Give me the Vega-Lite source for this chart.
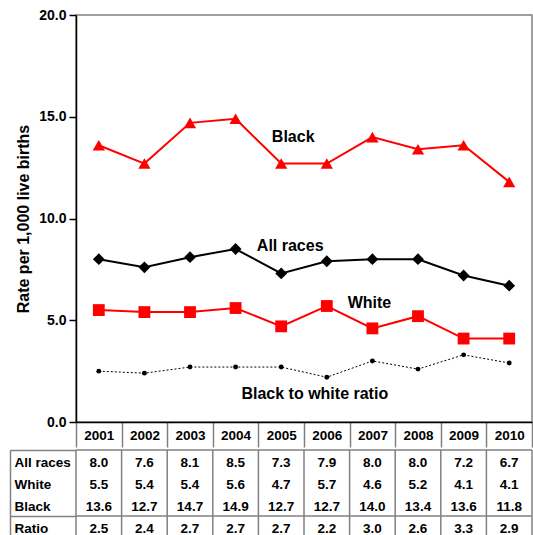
{
  "$schema": "https://vega.github.io/schema/vega-lite/v6.json",
  "padding": {"left": 9, "top": 7, "right": 0, "bottom": 0},
  "spacing": 0,
  "config": {"font": "Liberation Sans", "view": {"stroke": null}},
  "datasets": {
    "rates": [
      {"year": "2001", "series": "All races", "value": 8.0},
      {"year": "2002", "series": "All races", "value": 7.6},
      {"year": "2003", "series": "All races", "value": 8.1},
      {"year": "2004", "series": "All races", "value": 8.5},
      {"year": "2005", "series": "All races", "value": 7.3},
      {"year": "2006", "series": "All races", "value": 7.9},
      {"year": "2007", "series": "All races", "value": 8.0},
      {"year": "2008", "series": "All races", "value": 8.0},
      {"year": "2009", "series": "All races", "value": 7.2},
      {"year": "2010", "series": "All races", "value": 6.7},
      {"year": "2001", "series": "White", "value": 5.5},
      {"year": "2002", "series": "White", "value": 5.4},
      {"year": "2003", "series": "White", "value": 5.4},
      {"year": "2004", "series": "White", "value": 5.6},
      {"year": "2005", "series": "White", "value": 4.7},
      {"year": "2006", "series": "White", "value": 5.7},
      {"year": "2007", "series": "White", "value": 4.6},
      {"year": "2008", "series": "White", "value": 5.2},
      {"year": "2009", "series": "White", "value": 4.1},
      {"year": "2010", "series": "White", "value": 4.1},
      {"year": "2001", "series": "Black", "value": 13.6},
      {"year": "2002", "series": "Black", "value": 12.7},
      {"year": "2003", "series": "Black", "value": 14.7},
      {"year": "2004", "series": "Black", "value": 14.9},
      {"year": "2005", "series": "Black", "value": 12.7},
      {"year": "2006", "series": "Black", "value": 12.7},
      {"year": "2007", "series": "Black", "value": 14.0},
      {"year": "2008", "series": "Black", "value": 13.4},
      {"year": "2009", "series": "Black", "value": 13.6},
      {"year": "2010", "series": "Black", "value": 11.8},
      {"year": "2001", "series": "Ratio", "value": 2.5},
      {"year": "2002", "series": "Ratio", "value": 2.4},
      {"year": "2003", "series": "Ratio", "value": 2.7},
      {"year": "2004", "series": "Ratio", "value": 2.7},
      {"year": "2005", "series": "Ratio", "value": 2.7},
      {"year": "2006", "series": "Ratio", "value": 2.2},
      {"year": "2007", "series": "Ratio", "value": 3.0},
      {"year": "2008", "series": "Ratio", "value": 2.6},
      {"year": "2009", "series": "Ratio", "value": 3.3},
      {"year": "2010", "series": "Ratio", "value": 2.9}
    ],
    "notes": [
      {"label": "Black", "year": "2005", "value": 14.0},
      {"label": "All races", "year": "2005", "value": 8.65},
      {"label": "White", "year": "2007", "value": 5.85},
      {"label": "Black to white ratio", "year": "2006", "value": 1.38}
    ]
  },
  "vconcat": [
    {
      "width": 456,
      "height": 407,
      "view": {"stroke": "#808080", "strokeWidth": 1.5},
      "data": {"name": "rates"},
      "encoding": {
        "x": {
          "field": "year", "type": "nominal",
          "scale": {"type": "band", "paddingInner": 0, "paddingOuter": 0, "domain": ["2001","2002","2003","2004","2005","2006","2007","2008","2009","2010"]},
          "axis": {
            "title": null, "orient": "bottom", "labelAngle": 0,
            "labelFontSize": 13.5, "labelFontWeight": "bold", "labelColor": "#000",
            "labelBaseline": "middle", "labelPadding": -12,
            "tickBand": "extent", "tickSize": 25, "tickColor": "#808080", "tickWidth": 1.5,
            "domainColor": "#000", "domainWidth": 1.5, "grid": false
          }
        },
        "y": {
          "field": "value", "type": "quantitative",
          "scale": {"domain": [0, 20], "nice": false},
          "axis": {
            "title": "Rate per 1,000 live births", "titleFontSize": 16, "titleFontWeight": "bold",
            "titleColor": "#000", "titlePadding": 7,
            "values": [0, 5, 10, 15, 20], "format": ".1f",
            "labelFontSize": 14, "labelFontWeight": "bold", "labelColor": "#000", "labelPadding": 3,
            "tickSize": 7, "tickColor": "#000", "tickWidth": 1.5,
            "domainColor": "#000", "domainWidth": 1.5, "grid": false
          }
        }
      },
      "layer": [
        {"transform": [{"filter": "datum.series === 'Black'"}], "mark": {"type": "line", "color": "#FF0000", "strokeWidth": 2}},
        {"transform": [{"filter": "datum.series === 'All races'"}], "mark": {"type": "line", "color": "#000000", "strokeWidth": 2}},
        {"transform": [{"filter": "datum.series === 'White'"}], "mark": {"type": "line", "color": "#FF0000", "strokeWidth": 2}},
        {"transform": [{"filter": "datum.series === 'Ratio'"}], "mark": {"type": "line", "color": "#000000", "strokeWidth": 1, "strokeDash": [2, 2]}},
        {"transform": [{"filter": "datum.series === 'Black'"}], "mark": {"type": "point", "shape": "triangle-up", "filled": true, "opacity": 1, "color": "#FF0000", "size": 150}},
        {"transform": [{"filter": "datum.series === 'All races'"}], "mark": {"type": "point", "shape": "diamond", "filled": true, "opacity": 1, "color": "#000000", "size": 140}},
        {"transform": [{"filter": "datum.series === 'White'"}], "mark": {"type": "point", "shape": "square", "filled": true, "opacity": 1, "color": "#FF0000", "size": 140}},
        {"transform": [{"filter": "datum.series === 'Ratio'"}], "mark": {"type": "point", "shape": "circle", "filled": true, "opacity": 1, "color": "#000000", "size": 24}},
        {"data": {"name": "notes"}, "transform": [{"filter": "datum.label === 'Black'"}], "mark": {"type": "text", "fontSize": 16, "fontWeight": "bold", "color": "#000", "dx": 12}, "encoding": {"text": {"field": "label"}}},
        {"data": {"name": "notes"}, "transform": [{"filter": "datum.label === 'All races'"}], "mark": {"type": "text", "fontSize": 16, "fontWeight": "bold", "color": "#000", "dx": 9}, "encoding": {"text": {"field": "label"}}},
        {"data": {"name": "notes"}, "transform": [{"filter": "datum.label === 'White'"}], "mark": {"type": "text", "fontSize": 16, "fontWeight": "bold", "color": "#000", "dx": -3}, "encoding": {"text": {"field": "label"}}},
        {"data": {"name": "notes"}, "transform": [{"filter": "datum.label === 'Black to white ratio'"}], "mark": {"type": "text", "fontSize": 16, "fontWeight": "bold", "color": "#000", "dx": -12}, "encoding": {"text": {"field": "label"}}}
      ]
    },
    {
      "width": 456,
      "height": 88,
      "data": {"name": "rates"},
      "resolve": {"axis": {"y": "independent"}},
      "layer": [
        {
          "transform": [{"filter": "datum.series === 'All races'"}],
          "mark": {"type": "rule", "color": "#808080", "strokeWidth": 1.5},
          "encoding": {
            "x": {"field": "year", "type": "nominal", "bandPosition": 0,
              "scale": {"type": "band", "paddingInner": 0, "paddingOuter": 0, "domain": ["2001","2002","2003","2004","2005","2006","2007","2008","2009","2010"]},
              "axis": null}
          }
        },
        {
          "transform": [{"filter": "datum.series === 'All races' && datum.year === '2010'"}],
          "mark": {"type": "rule", "color": "#808080", "strokeWidth": 1.5},
          "encoding": {
            "x": {"field": "year", "type": "nominal", "bandPosition": 1, "axis": null}
          }
        },
        {
          "transform": [{"filter": "(datum.series === 'All races' || datum.series === 'Ratio') && datum.year === '2001'"}],
          "mark": {"type": "rule", "color": "#808080", "strokeWidth": 1.5},
          "encoding": {
            "y": {"field": "series", "type": "nominal", "bandPosition": 0,
              "scale": {"type": "band", "paddingInner": 0, "paddingOuter": 0, "domain": ["All races", "White", "Black", "Ratio"]},
              "axis": {
                "orient": "left", "offset": 66, "title": null, "labels": false, "domain": false,
                "values": ["All races", "Ratio"], "tickOffset": -11, "tickSize": -66,
                "tickColor": "#808080", "tickWidth": 1.5, "grid": false
              }
            }
          }
        },
        {
          "mark": {"type": "text", "fontSize": 13.5, "fontWeight": "bold", "color": "#000", "dy": 1.5},
          "encoding": {
            "x": {"field": "year", "type": "nominal", "axis": null},
            "y": {"field": "series", "type": "nominal",
              "axis": {
                "orient": "left", "offset": 66, "title": null, "ticks": false, "tickSize": 0,
                "domain": true, "domainColor": "#808080", "domainWidth": 1.5,
                "labelAlign": "left", "labelPadding": -4, "labelOffset": 1.5,
                "labelFontSize": 13.5, "labelFontWeight": "bold", "labelColor": "#000", "grid": false
              }
            },
            "text": {"field": "value", "type": "quantitative", "format": ".1f"}
          }
        }
      ]
    }
  ]
}
